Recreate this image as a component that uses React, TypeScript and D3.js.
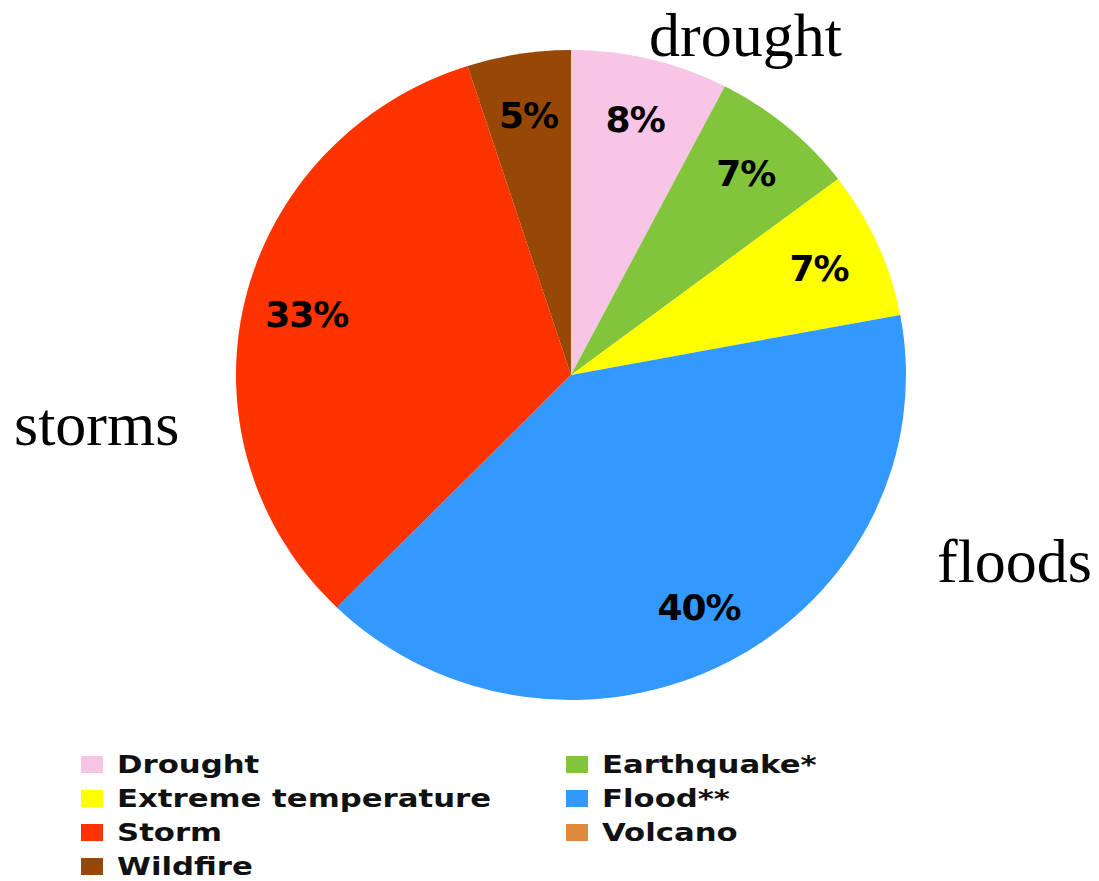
import React from "react";
import * as d3 from "d3";

const categories = ["Drought", "Earthquake*", "Extreme temperature", "Flood**", "Storm", "Volcano", "Wildfire"];
const values = [7.6, 7.1, 7.35, 40.3, 32.7, 0, 5.0];
const colors = ["#F7C5E6", "#82C43A", "#FFFF00", "#3399FF", "#FF3300", "#E0883C", "#974806"];
// legend order (two columns, row-major)
const legendOrder = ["Drought", "Earthquake*", "Extreme temperature", "Flood**", "Storm", "Volcano", "Wildfire"];
const annotations = [
  { text: "drought", x: 649, y: 56 },
  { text: "storms", x: 14, y: 445 },
  { text: "floods", x: 937, y: 582 },
];

const W = 1099;
const H = 881;
const cx = 571;
const cy = 375;
const R = 335;
const yScale = 325 / 335;

export default function App() {
  const pie = d3.pie<number>().sort(null).value((d) => d)(values);
  const arc = d3.arc<d3.PieArcDatum<number>>().innerRadius(0).outerRadius(R);
  const labelArc = d3.arc<d3.PieArcDatum<number>>().innerRadius(R * 0.81).outerRadius(R * 0.81);
  const total = d3.sum(values);

  return (
    <svg width={W} height={H} style={{ position: "absolute", left: 0, top: 0, background: "#fff" }}>
      <g transform={`translate(${cx},${cy}) scale(1,${yScale})`}>
        {pie.map((p, i) =>
          p.endAngle - p.startAngle > 0 ? (
            <path key={i} d={arc(p) || ""} fill={colors[i]} />
          ) : null
        )}
      </g>
      <g transform={`translate(${cx},${cy})`}>
        {pie.map((p, i) => {
          if (values[i] <= 0) return null;
          const [x, y] = labelArc.centroid(p);
          return (
            <text
              key={i}
              x={x}
              y={y * yScale}
              textAnchor="middle"
              dominantBaseline="central"
              fontFamily="DejaVu Sans"
              fontWeight="bold"
              fontSize={36}
              letterSpacing={-1}
              fill="#000"
            >
              {Math.round((values[i] / total) * 100)}%
            </text>
          );
        })}
      </g>
      {annotations.map((a, i) => (
        <text key={i} x={a.x} y={a.y} fontFamily="Liberation Serif" fontSize={62} fill="#000">
          {a.text}
        </text>
      ))}
      <g>
        {legendOrder.map((name, k) => {
          const idx = categories.indexOf(name);
          const col = k % 2;
          const row = Math.floor(k / 2);
          const sx = col === 0 ? 81 : 566;
          const tx = col === 0 ? 117 : 602;
          const by = 773 + row * 34;
          return (
            <g key={name}>
              <rect x={sx} y={by - 17} width={22} height={17} fill={colors[idx]} />
              <g transform={`translate(${tx},${by}) scale(1.23,1)`}>
                <text x={0} y={0} fontFamily="DejaVu Sans" fontWeight="bold" fontSize={25} fill="#111">
                  {name}
                </text>
              </g>
            </g>
          );
        })}
      </g>
    </svg>
  );
}
